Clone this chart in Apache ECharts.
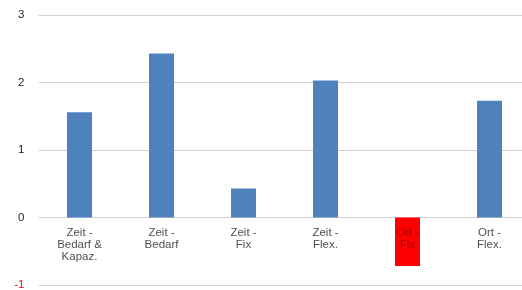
<!DOCTYPE html>
<html>
<head>
<meta charset="utf-8">
<script src="https://cdn.jsdelivr.net/npm/echarts@6/dist/echarts.min.js"></script>
<style>
html,body{margin:0;padding:0;background:#fff;}
#chart{width:522px;height:290px;}
</style>
</head>
<body>
<div id="chart"></div>
<script>
const categories = ['Zeit -\nBedarf &\nKapaz.', 'Zeit -\nBedarf', 'Zeit -\nFix', 'Zeit -\nFlex.', 'Ort -\nFix', 'Ort -\nFlex.'];
const values = [1.56, 2.43, 0.43, 2.03, -0.72, 1.73];
const negativeIndex = 4;

const chart = echarts.init(document.getElementById('chart'), null, {renderer: 'canvas'});
const font = 'Liberation Sans, Arial, sans-serif';

chart.setOption({
  animation: false,
  backgroundColor: '#ffffff',
  grid: {left: 38.5, top: 15, width: 492, bottom: 5, containLabel: false, outerBoundsMode: 'none'},
  xAxis: {
    type: 'category',
    data: categories,
    axisLine: {show: false},
    axisTick: {show: false},
    axisLabel: {show: false}
  },
  yAxis: {
    type: 'value',
    min: -1,
    max: 3,
    interval: 1,
    axisLine: {show: false},
    axisTick: {show: false},
    splitLine: {lineStyle: {color: '#d0d0d0', width: 1}},
    axisLabel: {
      margin: 14,
      color: v => Number(v) < 0 ? '#ff0000' : '#222',
      fontFamily: font,
      fontSize: 11.5
    }
  },
  series: [{
    type: 'bar',
    barWidth: 25,
    z: 2,
    data: values.map((v, i) => ({
      value: v,
      itemStyle: {color: i === negativeIndex ? '#ff0000' : '#4f81bd'}
    }))
  }, {
    type: 'scatter',
    silent: true,
    z: 10,
    symbolSize: 1,
    itemStyle: {color: 'rgba(0,0,0,0)'},
    data: categories.map((c, i) => ({
      value: [i, 0],
      name: c,
      label: {color: i === negativeIndex ? '#8a0000' : '#222'}
    })),
    label: {
      show: true,
      position: 'bottom',
      distance: 9,
      formatter: '{b}',
      fontFamily: font,
      fontSize: 11.5,
      lineHeight: 12,
      align: 'center'
    }
  }]
});
</script>
</body>
</html>
